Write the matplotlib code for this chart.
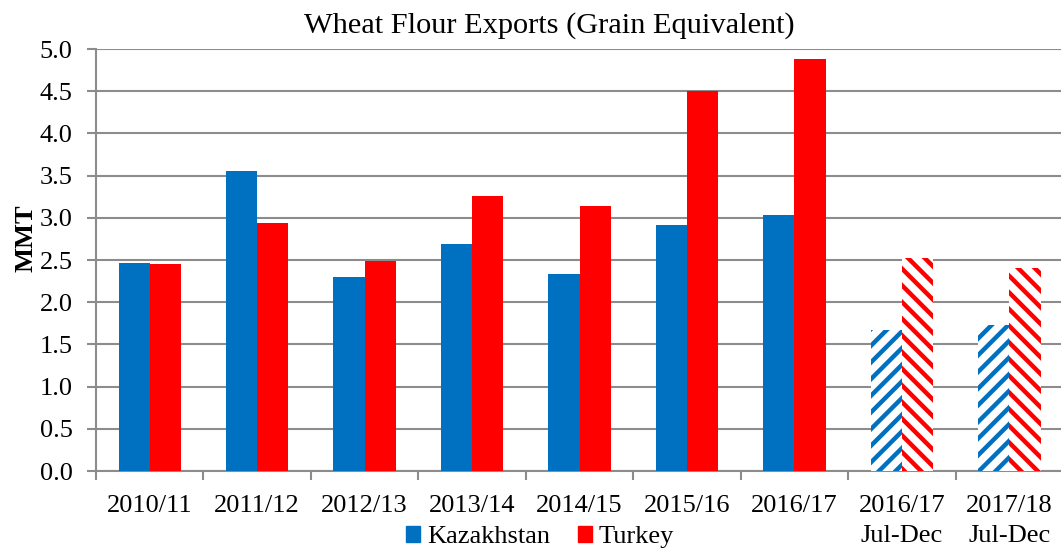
import numpy as np
import matplotlib.pyplot as plt
from matplotlib.patches import Patch

plt.rcParams['font.family'] = 'serif'
plt.rcParams['font.serif'] = ['Liberation Serif', 'DejaVu Serif']
plt.rcParams['hatch.linewidth'] = 3.2

categories = ['2010/11', '2011/12', '2012/13', '2013/14', '2014/15', '2015/16',
              '2016/17', '2016/17\nJul-Dec', '2017/18\nJul-Dec']
kazakhstan = [2.46, 3.55, 2.30, 2.69, 2.33, 2.91, 3.03, 1.67, 1.73]
turkey = [2.45, 2.94, 2.49, 3.26, 3.14, 4.50, 4.88, 2.52, 2.41]
partial = [False] * 7 + [True] * 2

blue = '#0070C0'
red = '#FF0000'
grid_col = '#8C8C8C'
fs = 19

fig = plt.figure(figsize=(10.61, 5.52), dpi=100)
ax = fig.add_axes([0.0905, 0.1467, 0.9115, 0.7645])

x = np.arange(len(categories))
w = 0.29
for i in range(len(categories)):
    if partial[i]:
        ax.bar(x[i] - w / 2, kazakhstan[i], w, facecolor='white', edgecolor=blue,
               hatch='//', linewidth=0, zorder=3)
        ax.bar(x[i] + w / 2, turkey[i], w, facecolor='white', edgecolor=red,
               hatch='\\\\', linewidth=0, zorder=3)
    else:
        ax.bar(x[i] - w / 2, kazakhstan[i], w, color=blue, zorder=3)
        ax.bar(x[i] + w / 2, turkey[i], w, color=red, zorder=3)

ax.set_xlim(-0.5, len(categories) - 0.5)
ax.set_ylim(0, 5.0)
yt = np.arange(0, 5.01, 0.5)
ax.set_yticks(yt)
ax.set_yticklabels(['{:.1f}'.format(v) for v in yt], fontsize=fs)
ax.yaxis.grid(True, color=grid_col, linewidth=1.5, zorder=0)
ax.set_axisbelow(True)

ax.set_xticks(x)
ax.set_xticklabels(categories, fontsize=fs, linespacing=1.48)
ax.set_xticks(np.arange(-0.5, len(categories)), minor=True)
ax.tick_params(axis='x', which='major', length=0, pad=17)
ax.tick_params(axis='x', which='minor', length=6.5, color=grid_col, width=1.5)
ax.tick_params(axis='y', length=6.5, color=grid_col, width=1.5, pad=10.5)

for side in ['top', 'right']:
    ax.spines[side].set_visible(False)
for side in ['left', 'bottom']:
    ax.spines[side].set_color(grid_col)
    ax.spines[side].set_linewidth(1.5)

ax.set_ylabel('MMT', fontsize=fs, fontweight='bold')
ax.yaxis.set_label_coords(-0.061, 0.552)
ax.set_title('Wheat Flour Exports (Grain Equivalent)', fontsize=21.9, pad=11.5, x=0.469)

handles = [Patch(color=blue, label='Kazakhstan'), Patch(color=red, label='Turkey')]
fig.legend(handles=handles, loc='lower center', bbox_to_anchor=(0.509, -0.036), ncol=2,
           frameon=False, prop={'family': 'serif', 'size': fs},
           handlelength=0.53, handleheight=0.53, handletextpad=0.25,
           columnspacing=1.05)

fig.savefig('out.png', dpi=100)
